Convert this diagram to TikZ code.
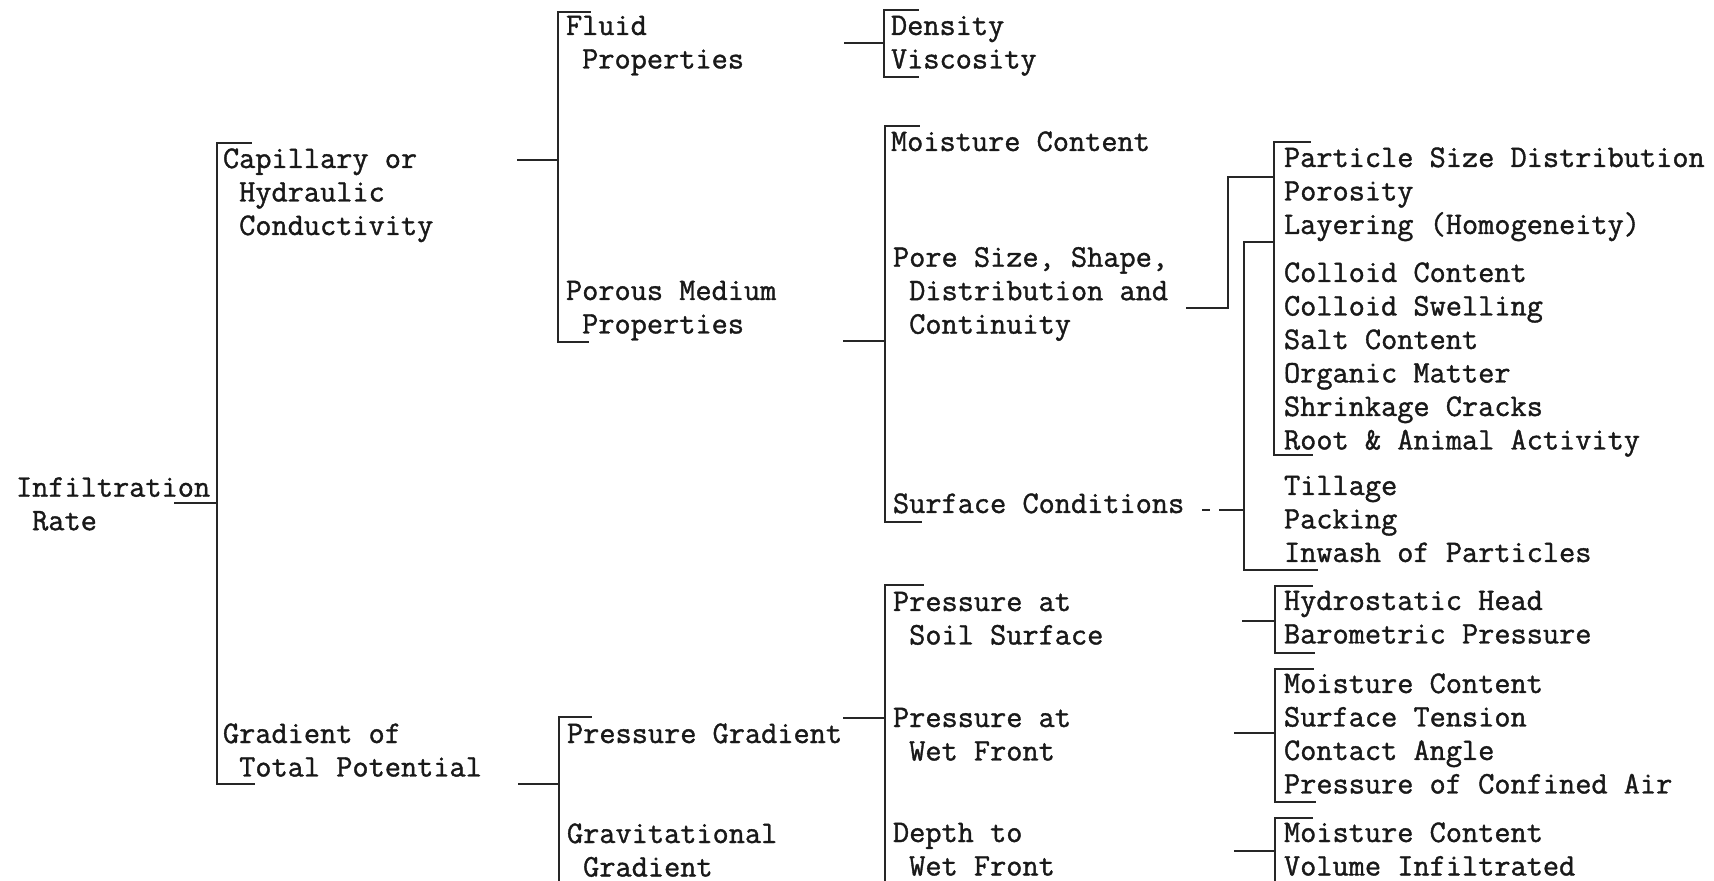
\documentclass[tikz,border=0pt]{standalone}
\usepackage{fontspec}
\newfontfamily\typew{Latin Modern Mono}[FakeBold=1.2]
\newcommand\mylines[1]{\begin{tabular}[t]{@{}l@{}}#1\end{tabular}}
\newcommand\myind{\hphantom{x}}
\begin{document}
\begin{tikzpicture}[x=0.5pt,y=-0.5pt,
  lbl/.style={anchor=base west,inner sep=0pt,outer sep=0pt,text=black!90,font=\fontsize{15.71}{16.75}\selectfont\typew},
  ln/.style={line width=1.1pt,black!85,line cap=rect}]
\useasboundingbox (0,0) rectangle (1714,881);
\clip (0,0) rectangle (1714,881);
% ---------- text nodes ----------
\node[lbl] (infil) at (16,496.7) {\mylines{Infiltration\\\myind Rate}};
\node[lbl] (cap) at (223,168) {\mylines{Capillary or\\\myind Hydraulic\\\myind Conductivity}};
\node[lbl] (grad) at (223,743) {\mylines{Gradient of\\\myind Total Potential}};
\node[lbl] (fluid) at (566,35) {\mylines{Fluid\\\myind Properties}};
\node[lbl] (porous) at (566,300) {\mylines{Porous Medium\\\myind Properties}};
\node[lbl] (presgrad) at (567,743) {Pressure Gradient};
\node[lbl] (grav) at (567,843) {\mylines{Gravitational\\\myind Gradient}};
\node[lbl] (dens) at (891,35) {\mylines{Density\\Viscosity}};
\node[lbl] (moist) at (891,151) {Moisture Content};
\node[lbl] (pore) at (893,266.7) {\mylines{Pore Size, Shape,\\\myind Distribution and\\\myind Continuity}};
\node[lbl] (surf) at (893,513) {Surface Conditions};
\node[lbl] (psoil) at (893,611) {\mylines{Pressure at\\\myind Soil Surface}};
\node[lbl] (pwet) at (893,727) {\mylines{Pressure at\\\myind Wet Front}};
\node[lbl] (depth) at (893,842) {\mylines{Depth to\\\myind Wet Front}};
\node[lbl] (particle) at (1284,167) {\mylines{Particle Size Distribution\\Porosity\\Layering (Homogeneity)}};
\node[lbl] (colloid) at (1284,282) {\mylines{Colloid Content\\Colloid Swelling\\Salt Content\\Organic Matter\\Shrinkage Cracks\\Root \& Animal Activity}};
\node[lbl] (tillage) at (1284,495) {\mylines{Tillage\\Packing\\Inwash of Particles}};
\node[lbl] (hydro) at (1284,610) {\mylines{Hydrostatic Head\\Barometric Pressure}};
\node[lbl] (moist2) at (1284,693) {\mylines{Moisture Content\\Surface Tension\\Contact Angle\\Pressure of Confined Air}};
\node[lbl] (moist3) at (1284,842) {\mylines{Moisture Content\\Volume Infiltrated}};
% ---------- connector coordinates ----------
\coordinate (infilR) at (175,503);
\coordinate (b1top) at (251,143);
\coordinate (b1bot) at (254,784);
\coordinate (capR) at (518,160);
\coordinate (gradR) at (519,784);
\coordinate (b2top) at (590,12);
\coordinate (b2bot) at (588,342);
\coordinate (b3top) at (591,717);
\coordinate (b3end) at (559,900);
\coordinate (fluidR) at (845,43);
\coordinate (porousR) at (844,341);
\coordinate (presgradR) at (844,718);
\coordinate (b4top) at (918,10);
\coordinate (b4bot) at (918,77);
\coordinate (b5top) at (919,126);
\coordinate (b5bot) at (921,522);
\coordinate (b6top) at (923,585);
\coordinate (b6end) at (885,900);
\coordinate (poreR) at (1187,308);
\coordinate (surfR) at (1220,510);
\coordinate (surfD1) at (1203,510);
\coordinate (surfD2) at (1209,510);
\coordinate (b7top) at (1310,142);
\coordinate (b7bot) at (1312,455);
\coordinate (b8bot) at (1317,570);
\coordinate (psoilR) at (1243,621);
\coordinate (pwetR) at (1235,733);
\coordinate (depthR) at (1235,851);
\coordinate (b9top) at (1312,586);
\coordinate (b9bot) at (1314,653);
\coordinate (b10top) at (1313,669);
\coordinate (b10bot) at (1315,802);
\coordinate (b11top) at (1312,818);
\coordinate (b11end) at (1275,900);
% ---------- connectors ----------
\draw[ln] (infilR) -- (217,503);
\draw[ln] (b1top) -- (217,143) -- (217,784) -- (b1bot);
\draw[ln] (capR) -- (558,160);
\draw[ln] (b2top) -- (558,12) -- (558,342) -- (b2bot);
\draw[ln] (gradR) -- (559,784);
\draw[ln] (b3top) -- (559,717) -- (b3end);
\draw[ln] (fluidR) -- (884,43);
\draw[ln] (b4top) -- (884,10) -- (884,77) -- (b4bot);
\draw[ln] (porousR) -- (885,341);
\draw[ln] (b5top) -- (885,126) -- (885,522) -- (b5bot);
\draw[ln] (presgradR) -- (885,718);
\draw[ln] (b6top) -- (885,585) -- (b6end);
\draw[ln] (poreR) -- (1228,308) -- (1228,177) -- (1274,177);
\draw[ln] (surfD1) -- (surfD2);
\draw[ln] (surfR) -- (1244,510);
\draw[ln] (1274,242) -- (1244,242) -- (1244,570) -- (b8bot);
\draw[ln] (b7top) -- (1274,142) -- (1274,455) -- (b7bot);
\draw[ln] (psoilR) -- (1275,621);
\draw[ln] (b9top) -- (1275,586) -- (1275,653) -- (b9bot);
\draw[ln] (pwetR) -- (1275,733);
\draw[ln] (b10top) -- (1275,669) -- (1275,802) -- (b10bot);
\draw[ln] (depthR) -- (1275,851);
\draw[ln] (b11top) -- (1275,818) -- (b11end);
\end{tikzpicture}
\end{document}
